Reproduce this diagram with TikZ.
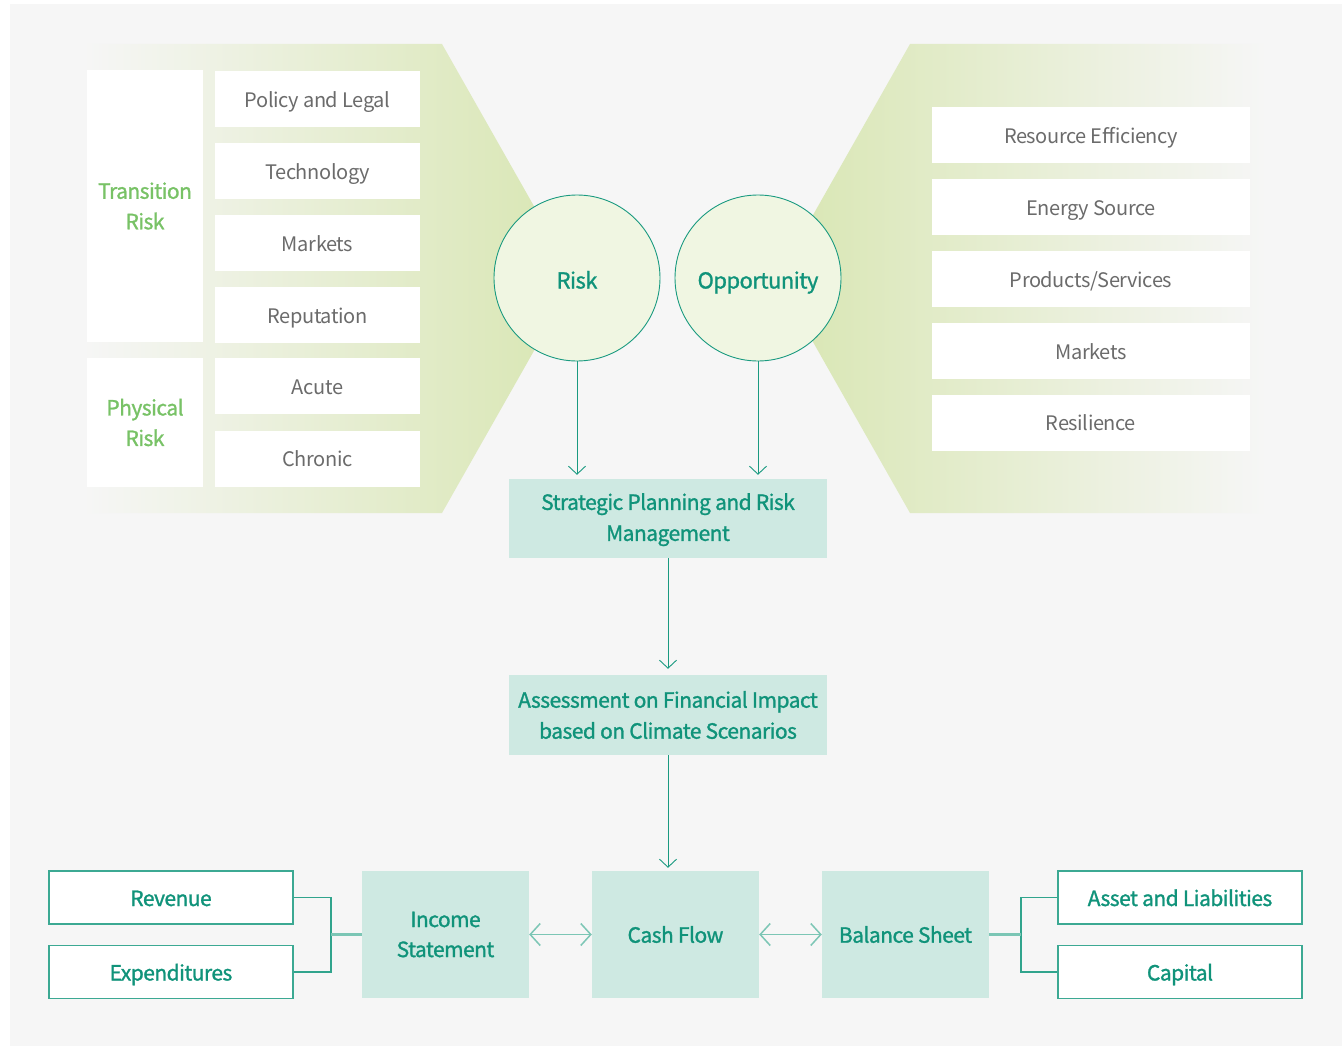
\documentclass[tikz,border=0pt]{standalone}
\usepackage{fontspec}
\setmainfont[LetterSpace=-2]{Noto Sans CJK KR}
\newfontfamily\medfont[FakeBold=1.2, LetterSpace=-2.5]{Noto Sans CJK KR}
\usetikzlibrary{arrows.meta}

\definecolor{bggray}{HTML}{F6F6F6}
\definecolor{leaf}{HTML}{D8E6B2}
\definecolor{circfill}{HTML}{F0F6E2}
\definecolor{tealfill}{HTML}{CEE9E2}
\definecolor{tealtext}{HTML}{10937A}
\definecolor{tealline}{HTML}{1A9A80}
\definecolor{teallight}{HTML}{7CC6B5}
\definecolor{graytext}{HTML}{6B6B6B}
\definecolor{lightgreen}{HTML}{78C266}

\tikzset{
  catbox/.style={fill=white, inner sep=0pt, minimum width=116pt, text=lightgreen,
    align=center, font=\medfont\fontsize{21}{30.5}\selectfont},
  itembox/.style={fill=white, inner sep=0pt, minimum height=56pt, text=graytext,
    text height=16.5pt, text depth=0pt, font=\fontsize{20}{26}\selectfont},
  litem/.style={itembox, minimum width=205pt},
  ritem/.style={itembox, minimum width=318pt},
  hub/.style={circle, draw=tealline, line width=0.9pt, fill=circfill, minimum size=166pt,
    inner sep=0pt, text=tealtext, text height=21pt, text depth=0pt,
    font=\medfont\fontsize{22}{28}\selectfont},
  procbox/.style={fill=tealfill, inner sep=0pt, minimum width=318pt, text=tealtext,
    align=center, font=\medfont\fontsize{21}{31}\selectfont},
  finbox/.style={fill=tealfill, inner sep=0pt, minimum width=167pt, minimum height=127pt,
    text=tealtext, align=center, font=\medfont\fontsize{21}{30}\selectfont},
  acctbox/.style={draw=tealline!85, line width=1.3pt, fill=white, inner sep=0pt,
    minimum width=244pt, minimum height=53pt, text=tealtext,
    text height=17pt, text depth=0pt, font=\medfont\fontsize{21}{26}\selectfont},
  flow/.style={draw=tealline, line width=0.9pt, -{Straight Barb[length=8pt,width=17pt]}},
  biflow/.style={draw=teallight, line width=1.5pt,
    {Straight Barb[length=10pt,width=22pt]}-{Straight Barb[length=10pt,width=22pt]}},
  bracket/.style={draw=tealline!90, line width=1.2pt},
  stem/.style={draw=teallight, line width=2.2pt},
}

\begin{document}
\begin{tikzpicture}[x=1pt, y=-1pt]
  \useasboundingbox (0,0) rectangle (1342,1046);
  \fill[white] (0,0) rectangle (1342,1046);
  \fill[bggray] (10,4) rectangle (1342,1046);

  % green arrow-shaped bands behind the two groups
  \shade[left color=bggray, right color=leaf]
    (83,44) -- (442,44) -- (575,278.5) -- (442,513) -- (83,513) -- cycle;
  \shade[left color=leaf, right color=bggray]
    (777,278.5) -- (910,44) -- (1267,44) -- (1267,513) -- (910,513) -- cycle;

  % risk categories
  \node[catbox, minimum height=272pt] (trans) at (145,206) {Transition\\Risk};
  \node[catbox, minimum height=129pt] (phys) at (145,422.5) {Physical\\Risk};
  \node[litem] (policy) at (317.5,99) {Policy and Legal};
  \node[litem] (tech) at (317.5,171) {Technology};
  \node[litem] (mkt) at (317.5,243) {Markets};
  \node[litem] (rep) at (317.5,315) {Reputation};
  \node[litem] (acute) at (317.5,386) {Acute};
  \node[litem] (chronic) at (317.5,458.5) {Chronic};

  % opportunity categories
  \node[ritem] (resource) at (1091,135) {Resource Efficiency};
  \node[ritem] (energy) at (1091,207) {Energy Source};
  \node[ritem] (products) at (1091,279) {Products/Services};
  \node[ritem] (omkt) at (1091,351) {Markets};
  \node[ritem] (resil) at (1091,422.5) {Resilience};

  % hubs
  \node[hub] (risk) at (577,278) {Risk};
  \node[hub] (opp) at (758,278) {Opportunity};

  % process
  \node[procbox, minimum height=79pt] (plan) at (668,518.5)
    {\rule{0pt}{19pt}Strategic Planning and Risk\\Management};
  \node[procbox, minimum height=80pt] (assess) at (668,715)
    {Assessment on Financial Impact\\based on Climate Scenarios};

  \draw[flow, shorten >=4pt] (risk.south) -- (risk.south |- plan.north);
  \draw[flow, shorten >=4pt] (opp.south) -- (opp.south |- plan.north);
  \draw[flow, shorten >=6pt] (plan.south) -- (assess.north);

  % financial statements
  \node[finbox] (income) at (445.5,934.5) {Income\\Statement};
  \node[finbox] (cash) at (675.5,934.5) {Cash Flow};
  \node[finbox] (balance) at (905.5,934.5) {Balance Sheet};

  \draw[flow, shorten >=3pt] (assess.south) -- (assess.south |- cash.north);

  \draw[biflow] (income.east) -- (cash.west);
  \draw[biflow] (cash.east) -- (balance.west);

  \node[acctbox] (rev) at (171,897.5) {Revenue};
  \node[acctbox] (expend) at (171,972) {Expenditures};
  \node[acctbox] (asset) at (1180,897.5) {Asset and Liabilities};
  \node[acctbox] (capital) at (1180,972) {Capital};

  \coordinate (lj) at (331,934.5);
  \coordinate (rj) at (1021,934.5);
  \draw[bracket] (rev.east) -| (lj) |- (expend.east);
  \draw[stem] (lj) -- (income.west);
  \draw[bracket] (asset.west) -| (rj) |- (capital.west);
  \draw[stem] (balance.east) -- (rj);
\end{tikzpicture}
\end{document}
